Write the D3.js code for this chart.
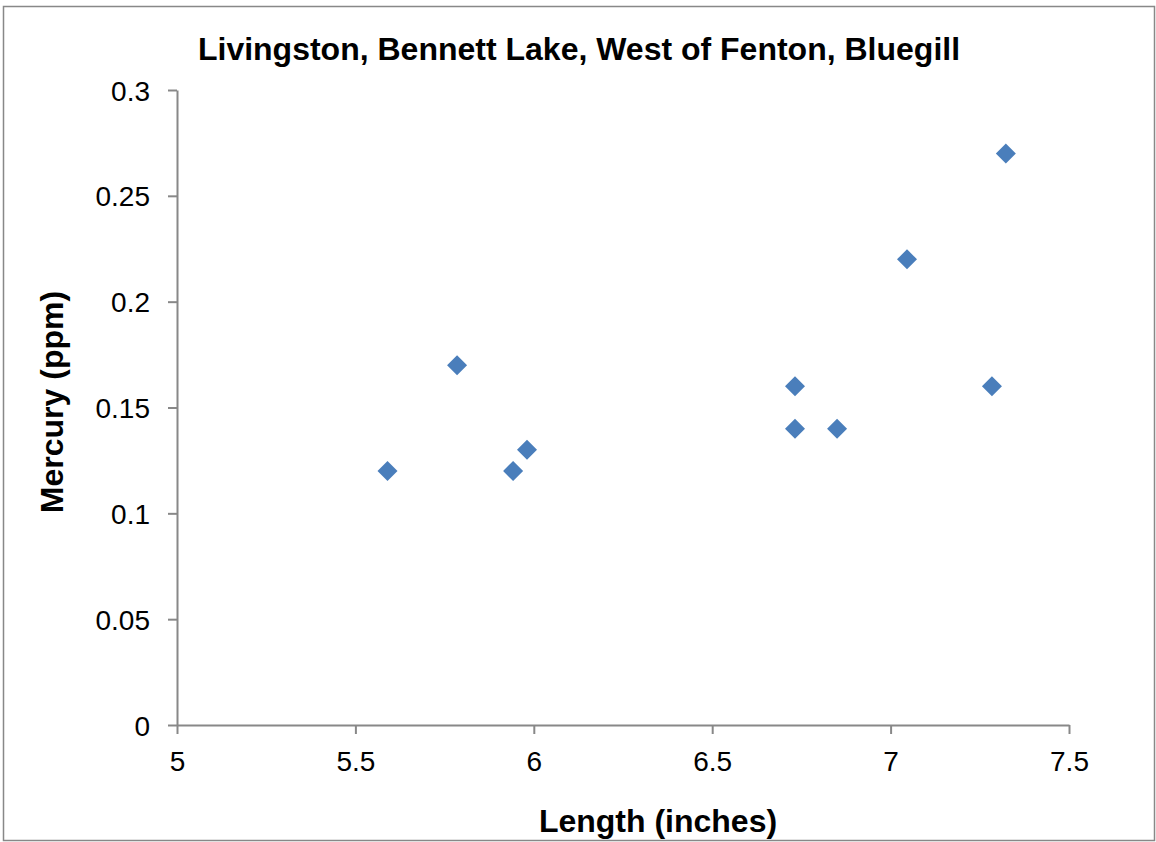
<!DOCTYPE html>
<html><head><meta charset="utf-8">
<script src="https://cdn.jsdelivr.net/npm/d3@7"></script>
<style>body{margin:0;background:#fff}svg{display:block;font-family:"Liberation Sans",Arial,sans-serif}</style>
</head><body><svg id="c" width="1156" height="842"></svg>
<script>
const lengths = [5.59, 5.785, 5.942, 5.981, 6.732, 6.732, 6.85, 7.046, 7.284, 7.323];
const mercury = [0.12, 0.17, 0.12, 0.13, 0.16, 0.14, 0.14, 0.22, 0.16, 0.27];
const xTicks = [5, 5.5, 6, 6.5, 7, 7.5];
const yTicks = [0, 0.05, 0.1, 0.15, 0.2, 0.25, 0.3];
const title = "Livingston, Bennett Lake, West of Fenton, Bluegill";
const xTitle = "Length (inches)";
const yTitle = "Mercury (ppm)";

const svg = d3.select("#c");
svg.append("rect").attr("x",3.5).attr("y",6.5).attr("width",1151).attr("height",834)
  .attr("fill","#fff").attr("stroke","#888").attr("stroke-width",1.5);

const x = d3.scaleLinear().domain([5,7.5]).range([177,1069]);
const y = d3.scaleLinear().domain([0,0.3]).range([725,90]);

const xa = svg.append("g").attr("transform","translate(0,725)")
  .call(d3.axisBottom(x).tickValues(xTicks).tickFormat(d=>String(d)).tickSize(9).tickSizeOuter(0));
const ya = svg.append("g").attr("transform","translate(177,0)")
  .call(d3.axisLeft(y).tickValues(yTicks).tickFormat(d=>String(d)).tickSize(9).tickSizeOuter(0));
[xa,ya].forEach(a=>{
  a.selectAll("path,line").attr("stroke","#888").attr("stroke-width",2);
  a.selectAll("text").attr("fill","#000").style("font-size","28px").style("font-family","'Liberation Sans',Arial,sans-serif");
});
xa.selectAll("text").attr("dy","0").attr("y",46);
ya.selectAll("text").attr("x",-27).attr("dy","0.36em");

const pts = lengths.map((v,i)=>({x:v,y:mercury[i]}));
svg.append("g").selectAll("path").data(pts).join("path")
  .attr("d", d3.symbol().type(d3.symbolSquare).size(200))
  .attr("transform",d=>`translate(${x(d.x)},${y(d.y)}) rotate(45)`)
  .attr("fill","#4a7ebb");

svg.append("text").attr("x",579).attr("y",60).attr("text-anchor","middle")
  .style("font-size","32px").style("font-weight","bold").text(title);
svg.append("text").attr("x",658).attr("y",832).attr("text-anchor","middle")
  .style("font-size","32px").style("font-weight","bold").text(xTitle);
svg.append("text").attr("transform","translate(63,402) rotate(-90)").attr("text-anchor","middle")
  .style("font-size","32px").style("font-weight","bold").text(yTitle);
</script>
</body></html>
